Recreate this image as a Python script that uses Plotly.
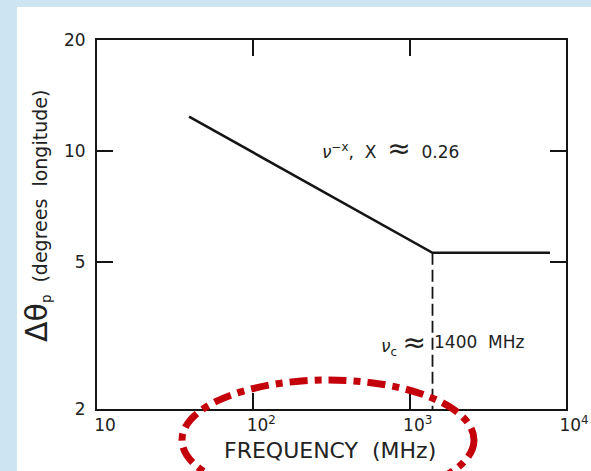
import plotly.graph_objects as go

# ---- data ----
freq_mhz = [38.8, 1400, 7900]          # MHz
dtheta_deg = [12.4, 5.3, 5.3]           # degrees longitude
cutoff_freq = [1400, 1400]
cutoff_dtheta = [5.3, 2.0]

x_tickvals = [10, 100, 1000, 10000]
x_ticktext = ["10", "10<sup>2</sup>", "10<sup>3</sup>", "10<sup>4</sup>"]
y_tickvals = [2, 5, 10, 20]
y_ticktext = ["2", "5", "10", "20"]

W, H = 591, 471
L, R, T, B = 97, 25, 40, 62
pw, ph = W - L - R, H - T - B

def px(X):
    return (X - L) / pw

def py(Y):
    return (H - B - Y) / ph

FONT = "DejaVu Sans"
INK = "#151515"
BAND = "#cde4f2"

fig = go.Figure()
fig.add_trace(go.Scatter(x=freq_mhz, y=dtheta_deg, mode="lines",
                         line=dict(color=INK, width=2.6), showlegend=False,
                         hoverinfo="skip"))
fig.add_trace(go.Scatter(x=cutoff_freq, y=cutoff_dtheta, mode="lines",
                         line=dict(color=INK, width=1.8, dash="12px,5px"),
                         showlegend=False, hoverinfo="skip"))

axis_common = dict(showgrid=False, zeroline=False, showline=True,
                   linecolor=INK, linewidth=2, mirror="ticks",
                   ticks="inside", ticklen=16, tickwidth=1.6, tickcolor=INK,
                   automargin=False,
                   tickfont=dict(family=FONT, size=17, color="#222"))

fig.update_xaxes(type="log", range=[1, 4], tickvals=x_tickvals,
                 ticktext=x_ticktext, ticklabelshift=8, ticklabelstandoff=0,
                 **axis_common)
fig.update_yaxes(type="log", range=[0.30103, 1.30103], tickvals=y_tickvals,
                 ticktext=y_ticktext, ticklabelstandoff=6, **axis_common)

annotations = [
    dict(x=px(330), y=py(450), xref="paper", yref="paper",
         text="FREQUENCY  (MHz)", showarrow=False,
         font=dict(family=FONT, size=22, color="#222"),
         xanchor="center", yanchor="middle"),
    dict(x=px(36), y=py(216), xref="paper", yref="paper", textangle=-90,
         text="<span style='font-size:30px'>Δθ</span><sub>p</sub>  (degrees  longitude)",
         showarrow=False, font=dict(family=FONT, size=19, color="#222"),
         xanchor="center", yanchor="middle"),
    dict(x=px(390), y=py(148), xref="paper", yref="paper",
         text="<i>ν</i><sup>−x</sup>,  X  <span style='font-size:28px'>≈</span>  0.26",
         showarrow=False, font=dict(family=FONT, size=17, color="#222"),
         xanchor="center", yanchor="middle"),
    dict(x=px(428), y=py(342), xref="paper", yref="paper",
         text="<i>ν</i><sub>c</sub> <span style='font-size:28px'>≈</span>",
         showarrow=False, font=dict(family=FONT, size=17, color="#222"),
         xanchor="right", yanchor="middle"),
    dict(x=px(432), y=py(342), xref="paper", yref="paper",
         text="1400  MHz",
         showarrow=False, font=dict(family=FONT, size=17, color="#222"),
         xanchor="left", yanchor="middle"),
]

shapes = [
    dict(type="rect", xref="paper", yref="paper", layer="below",
         x0=px(17), x1=px(W + 150), y0=py(7), y1=py(H + 100),
         fillcolor="white", line=dict(width=0)),
    dict(type="circle", xref="paper", yref="paper", layer="above",
         x0=px(182), x1=px(474), y0=py(380), y1=py(500),
         line=dict(color="#c4000a", width=7, dash="18px,7px,7px,7px")),
]

fig.update_layout(width=W, height=H, autosize=False,
                  margin=dict(l=L, r=R, t=T, b=B, pad=0, autoexpand=False),
                  paper_bgcolor=BAND, plot_bgcolor="white",
                  annotations=annotations, shapes=shapes)

fig.write_html("out.html")
